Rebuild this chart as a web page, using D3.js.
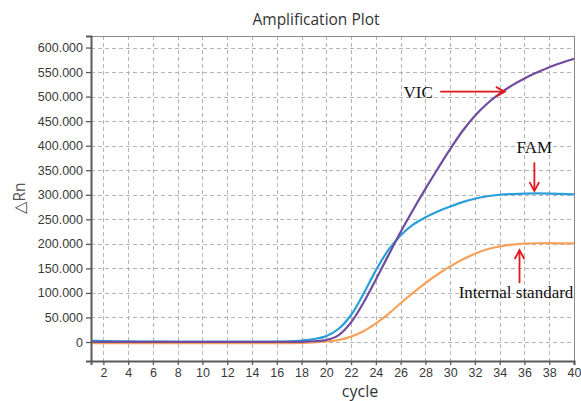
<!DOCTYPE html>
<html>
<head>
<meta charset="utf-8">
<script src="https://cdn.jsdelivr.net/npm/d3@7"></script>
<style>
  body { margin: 0; background: #fff; }
  svg { display: block; }
</style>
</head>
<body>
<div id="chart"></div>
<script>
// cycles 1..40
const cycles = d3.range(1, 41);

// delta Rn per cycle
const vicValues = [
  500, 450, 400, 350, 300, 250, 200, 200, 150, 150,
  100, 100, 100, 100, 100, 100, 200, 400, 1500, 4000,
  14000, 40000, 80000, 127000, 176000, 224000, 269000, 312000, 353000, 393000,
  430000, 461000, 486000, 506000, 523000, 537000, 549000, 560000, 569000, 577000
];
const famValues = [
  2500, 2000, 1500, 1200, 1000, 800, 600, 500, 500, 500,
  500, 500, 500, 500, 500, 600, 1200, 3000, 6000, 12000,
  27000, 55000, 98000, 146000, 187000, 217000, 239000, 254000, 266000, 276000,
  285000, 292000, 297000, 300000, 301500, 302500, 302800, 302500, 301800, 301000
];
const isValues = [
  -2500, -2500, -2500, -2500, -2500, -2500, -2500, -2500, -2500, -2500,
  -2500, -2500, -2500, -2500, -2500, -2500, -2300, -2000, -1000, 1000,
  4000, 11000, 22000, 38000, 57000, 79000, 100000, 120000, 138000, 154000,
  168000, 180000, 189000, 195000, 198500, 200500, 201200, 201300, 201000, 200800
];

const seriesNames = ["Internal standard", "FAM", "VIC"];
const seriesColors = ["#f7a25b", "#2b9fd9", "#6f4c9f"];
const seriesValues = [isValues, famValues, vicValues];

const xTicks = d3.range(2, 41, 2);
const yTicks = d3.range(0, 600001, 50000);

// annotation labels, placed in data units (cycle, delta Rn)
const notes = [
  { text: "VIC", at: [28.6, 497000], from: [29.2, 510000], to: [34.4, 510000], anchor: "end" },
  { text: "FAM", at: [36.8, 385000], from: [36.8, 366000], to: [36.8, 308000], anchor: "middle" },
  { text: "Internal standard", at: [39.95, 90000], from: [35.6, 120000], to: [35.6, 187000], anchor: "end" }
];

const width = 581, height = 401;
const plot = { left: 91, right: 574, top: 36, bottom: 361 };

const svg = d3.select("#chart").append("svg")
  .attr("width", width)
  .attr("height", height);

const x = d3.scaleLinear().domain([1, 40]).range([plot.left, plot.right]);
const y = d3.scaleLinear().domain([-38700, 623500]).range([plot.bottom, plot.top]);

// grid
const grid = svg.append("g")
  .attr("stroke", "#b4b4b4")
  .attr("stroke-width", 1)
  .attr("stroke-dasharray", "4,3");

grid.selectAll("line.h")
  .data(yTicks)
  .enter().append("line")
  .attr("class", "h")
  .attr("x1", plot.left).attr("x2", plot.right)
  .attr("y1", d => Math.round(y(d)) + 0.5)
  .attr("y2", d => Math.round(y(d)) + 0.5);

grid.selectAll("line.v")
  .data(xTicks)
  .enter().append("line")
  .attr("class", "v")
  .attr("y1", plot.top).attr("y2", plot.bottom)
  .attr("x1", d => Math.round(x(d)) + 0.5)
  .attr("x2", d => Math.round(x(d)) + 0.5);

// frame (top and right lighter)
svg.append("rect")
  .attr("x", plot.left + 0.5)
  .attr("y", plot.top + 0.5)
  .attr("width", plot.right - plot.left)
  .attr("height", plot.bottom - plot.top)
  .attr("fill", "none")
  .attr("stroke", "#8a8a8a")
  .attr("stroke-width", 1);

// curves
const line = d3.line()
  .x((d, i) => x(cycles[i]))
  .y(d => y(d))
  .curve(d3.curveCatmullRom.alpha(0.5));

svg.append("g")
  .selectAll("path")
  .data(seriesValues)
  .enter().append("path")
  .attr("d", line)
  .attr("fill", "none")
  .attr("stroke", (d, i) => seriesColors[i])
  .attr("stroke-width", 2.2)
  .attr("stroke-linejoin", "round");

// axes
const fmt = d => d === 0 ? "0" : d3.format(",")(d).replace(/,/g, ".");

const yAxis = svg.append("g")
  .attr("transform", "translate(" + plot.left + ",0)")
  .call(d3.axisLeft(y).tickValues(yTicks).tickFormat(fmt).tickSize(5).tickPadding(3));

const xAxis = svg.append("g")
  .attr("transform", "translate(0," + plot.bottom + ")")
  .call(d3.axisBottom(x).tickValues(xTicks).tickSize(4).tickPadding(3));

[xAxis, yAxis].forEach(ax => {
  ax.select(".domain").attr("stroke", "#5a5a5a").attr("stroke-width", 2);
  ax.selectAll(".tick line").attr("stroke", "#5a5a5a").attr("stroke-width", 1.3);
  ax.selectAll(".tick text")
    .attr("fill", "#3a3a3a")
    .style("font-family", "'Liberation Sans', Arial, sans-serif")
    .style("font-size", "12.5px");
});

// titles
svg.append("text")
  .attr("x", 316).attr("y", 25)
  .attr("text-anchor", "middle")
  .attr("fill", "#333")
  .style("font-family", "'Open Sans', sans-serif")
  .style("font-size", "15.5px")
  .text("Amplification Plot");

svg.append("text")
  .attr("x", 360).attr("y", 397)
  .attr("text-anchor", "middle")
  .attr("fill", "#333")
  .style("font-family", "'Open Sans', sans-serif")
  .style("font-size", "16px")
  .text("cycle");

svg.append("text")
  .attr("transform", "translate(25,198) rotate(-90)")
  .attr("text-anchor", "middle")
  .attr("fill", "#555")
  .style("font-family", "'Open Sans', sans-serif")
  .style("font-size", "15.5px")
  .text("△Rn");

// annotations
const ann = svg.append("g");

notes.forEach(n => {
  ann.append("text")
    .attr("x", x(n.at[0])).attr("y", y(n.at[1]))
    .attr("text-anchor", n.anchor)
    .attr("fill", "#111")
    .style("font-family", "'Liberation Serif', 'Times New Roman', serif")
    .style("font-size", "17px")
    .text(n.text);

  const x1 = x(n.from[0]), y1 = y(n.from[1]);
  const x2 = x(n.to[0]), y2 = y(n.to[1]);
  const ang = Math.atan2(y2 - y1, x2 - x1);
  const hl = 10, hw = 0.5;
  ann.append("line")
    .attr("x1", x1).attr("y1", y1)
    .attr("x2", x2).attr("y2", y2)
    .attr("stroke", "#e3161c")
    .attr("stroke-width", 1.8);
  ann.append("path")
    .attr("d", "M" + (x2 - hl * Math.cos(ang - hw)) + "," + (y2 - hl * Math.sin(ang - hw)) +
      "L" + x2 + "," + y2 +
      "L" + (x2 - hl * Math.cos(ang + hw)) + "," + (y2 - hl * Math.sin(ang + hw)))
    .attr("fill", "none")
    .attr("stroke", "#e3161c")
    .attr("stroke-width", 1.8);
});
</script>
</body>
</html>
